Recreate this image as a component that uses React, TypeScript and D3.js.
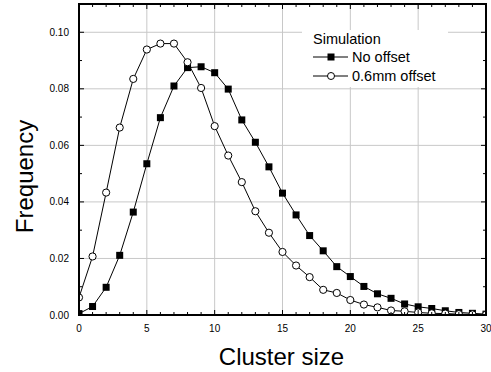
import React from "react";
import * as d3 from "d3";

const clusterSizes = d3.range(0, 31);
const noOffset = [0.0005, 0.003, 0.0098, 0.0211, 0.0364, 0.0535, 0.0698, 0.081, 0.0875, 0.0878, 0.0857, 0.0799, 0.069, 0.0611, 0.0524, 0.0431, 0.0354, 0.0281, 0.0227, 0.0171, 0.0136, 0.0101, 0.0075, 0.0059, 0.0039, 0.0029, 0.0023, 0.0015, 0.0009, 0.0006, 0.0003];
const offset06 = [0.0062, 0.0207, 0.0433, 0.0663, 0.0835, 0.0939, 0.096, 0.096, 0.0894, 0.0803, 0.0668, 0.0564, 0.047, 0.0367, 0.0291, 0.0223, 0.0175, 0.0134, 0.0089, 0.0078, 0.0053, 0.0037, 0.0027, 0.0016, 0.0013, 0.0009, 0.0006, 0.0005, 0.0003, 0.0002, 0.0001];
const xTicks = [0, 5, 10, 15, 20, 25, 30];
const yTicks = [0, 0.02, 0.04, 0.06, 0.08, 0.1];
const legendTitle = "Simulation";
const seriesNames = ["No offset", "0.6mm offset"];

const W = 491, H = 372;
const L = 79, R = 486, T = 4, B = 315;
const font = "'Liberation Sans', Arial, sans-serif";

export default function App() {
  const x = d3.scaleLinear().domain([0, 30]).range([L, R]);
  const y = d3.scaleLinear().domain([0, 0.11]).range([B, T]);
  const line = d3.line<number>().x((_, i) => x(clusterSizes[i])).y((d) => y(d));
  const xMinor = d3.range(0, 31, 1);
  const yMinor = d3.range(0, 0.1101, 0.01);
  return (
    <svg width={W} height={H} style={{ position: "absolute", left: 0, top: 0 }}>
      <defs>
        <clipPath id="plot"><rect x={L} y={T} width={R - L} height={B - T} /></clipPath>
      </defs>
      <rect x={0} y={0} width={W} height={H} fill="white" />
      {xTicks.slice(1, -1).map((t) => (
        <line key={"gx" + t} x1={x(t)} x2={x(t)} y1={T} y2={B} stroke="#c8c8c8" strokeWidth={1} />
      ))}
      {yTicks.slice(1).map((t) => (
        <line key={"gy" + t} x1={L} x2={R} y1={y(t)} y2={y(t)} stroke="#c8c8c8" strokeWidth={1} />
      ))}
      <g clipPath="url(#plot)">
        <path d={line(noOffset) || ""} fill="none" stroke="black" strokeWidth={1} />
        <path d={line(offset06) || ""} fill="none" stroke="black" strokeWidth={1} />
        {noOffset.map((v, i) => (
          <rect key={"s" + i} x={x(clusterSizes[i]) - 3.5} y={y(v) - 3.5} width={7} height={7} fill="black" />
        ))}
        {offset06.map((v, i) => (
          <circle key={"c" + i} cx={x(clusterSizes[i])} cy={y(v)} r={3.6} fill="white" stroke="black" strokeWidth={1} />
        ))}
      </g>
      {/* legend */}
      <rect x={302} y={30} width={146} height={57} fill="white" />
      <text x={313} y={44} fontFamily={font} fontSize={14.5}>{legendTitle}</text>
      <line x1={313} x2={348} y1={57} y2={57} stroke="black" />
      <rect x={327.5} y={53.5} width={7} height={7} fill="black" />
      <text x={352} y={62} fontFamily={font} fontSize={14.5}>{seriesNames[0]}</text>
      <line x1={313} x2={348} y1={76} y2={76} stroke="black" />
      <circle cx={331} cy={76} r={3.5} fill="white" stroke="black" />
      <text x={352} y={81} fontFamily={font} fontSize={14.5}>{seriesNames[1]}</text>
      {/* ticks */}
      {xMinor.map((t) => {
        const len = t % 5 === 0 ? 5 : 3;
        return (
          <g key={"tx" + t}>
            <line x1={x(t)} x2={x(t)} y1={B} y2={B - len} stroke="black" strokeWidth={1} />
            <line x1={x(t)} x2={x(t)} y1={T} y2={T + len} stroke="black" strokeWidth={1} />
          </g>
        );
      })}
      {yMinor.map((t, i) => {
        const len = i % 2 === 0 ? 5 : 3;
        return (
          <g key={"ty" + i}>
            <line x1={L} x2={L + len} y1={y(t)} y2={y(t)} stroke="black" strokeWidth={1} />
            <line x1={R} x2={R - len} y1={y(t)} y2={y(t)} stroke="black" strokeWidth={1} />
          </g>
        );
      })}
      <rect x={L} y={T} width={R - L} height={B - T} fill="none" stroke="black" strokeWidth={2} />
      {xTicks.map((t) => (
        <text key={"lx" + t} x={x(t)} y={B + 17} textAnchor="middle" fontFamily={font} fontSize={10}>{t}</text>
      ))}
      {yTicks.map((t) => (
        <text key={"ly" + t} x={L - 10} y={y(t) + 3.5} textAnchor="end" fontFamily={font} fontSize={10}>{t.toFixed(2)}</text>
      ))}
      <text x={(L + R) / 2 - 1} y={365} textAnchor="middle" fontFamily={font} fontSize={24}>Cluster size</text>
      <text transform={`translate(33,176.5) rotate(-90)`} textAnchor="middle" fontFamily={font} fontSize={24}>Frequency</text>
    </svg>
  );
}
